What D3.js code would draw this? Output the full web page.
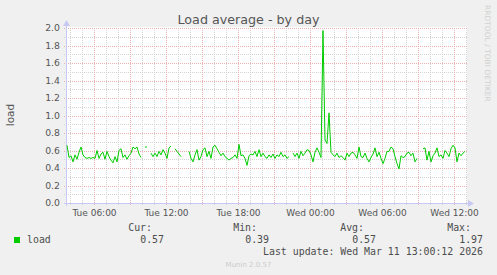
<!DOCTYPE html>
<html>
<head>
<meta charset="utf-8">
<script src="https://cdn.jsdelivr.net/npm/d3@7"></script>
<style>
  body { margin: 0; background: #f0f0f0; }
  svg { display: block; }
</style>
</head>
<body>
<div id="chart"></div>
<script>
// load average, one sample every 10 minutes from Tue 03:45 (null = no data)
var startTime = new Date(2026, 2, 10, 3, 45);
var stepMinutes = 10;
var load = [
  0.66,0.52,0.54,0.47,0.55,0.50,0.58,0.64,0.55,0.52,
  0.51,0.52,0.51,0.52,0.51,0.60,0.51,0.56,0.58,0.50,
  0.59,0.53,0.49,0.46,0.53,0.47,0.60,0.62,0.52,0.55,
  0.50,0.54,0.57,0.64,0.62,0.64,0.56,0.52,null,0.64,
  0.64,null,0.57,0.53,0.57,0.53,0.59,0.55,0.61,0.57,
  0.51,0.63,0.65,null,0.62,0.59,0.56,0.53,null,null,
  null,0.59,0.51,0.47,0.55,0.61,0.49,0.53,0.61,0.63,
  0.53,0.59,0.51,0.64,0.66,0.62,0.58,0.54,0.57,0.53,
  0.51,0.49,0.51,0.52,0.55,0.51,0.67,0.54,0.55,0.51,
  0.43,0.54,0.56,0.55,0.59,0.53,0.61,0.53,0.57,0.53,
  0.51,0.55,0.52,0.56,0.51,0.55,0.53,0.58,0.53,0.55,
  0.51,0.53,null,0.57,0.53,0.57,0.51,0.59,0.54,0.57,
  0.61,0.60,0.55,0.47,0.58,0.63,0.58,0.52,1.97,0.72,
  0.68,1.03,0.58,0.55,0.53,0.57,0.52,0.54,0.52,0.49,
  0.57,0.53,0.57,0.58,0.55,0.51,0.64,0.53,0.52,0.57,
  0.51,0.47,0.52,0.56,0.63,0.53,0.58,0.51,0.45,0.51,
  0.59,0.59,0.64,0.62,0.53,0.45,0.39,0.54,0.52,0.53,
  0.57,0.58,0.54,0.57,0.47,0.51,null,null,0.62,0.63,
  0.49,0.59,0.47,0.54,0.57,0.63,0.53,0.55,0.51,0.60,
  0.57,0.53,0.62,0.66,0.63,0.47,0.57,0.54,0.57,0.59
];
var yTicks = [0, 0.2, 0.4, 0.6, 0.8, 1.0, 1.2, 1.4, 1.6, 1.8, 2.0];
var yMinor = [0.1, 0.3, 0.5, 0.7, 0.9, 1.1, 1.3, 1.5, 1.7, 1.9];
var legendHeads = ["Cur:", "Min:", "Avg:", "Max:"];
var legendValues = ["0.57", "0.39", "0.57", "1.97"];

var W = 497, H = 275;
var plotL = 67, plotR = 467, plotT = 28, plotB = 203;
var sans = "DejaVu Sans, sans-serif";
var mono = "DejaVu Sans Mono, monospace";

var svg = d3.select("#chart").append("svg")
  .attr("width", W)
  .attr("height", H);

svg.append("rect").attr("width", W).attr("height", H).attr("fill", "#f0f0f0");

var endTime = new Date(2026, 2, 11, 13, 5);
var x = d3.scaleTime().domain([startTime, endTime]).range([plotL, plotR]);
var y = d3.scaleLinear().domain([0, 2]).range([plotB, plotT]);

var data = load.map(function(v, i) {
  return { t: d3.timeMinute.offset(startTime, i * stepMinutes), v: v };
});

// plot background
svg.append("rect")
  .attr("x", plotL).attr("y", plotT - 1)
  .attr("width", plotR - plotL).attr("height", plotB - plotT + 1)
  .attr("fill", "#ffffff");

var px = function(v) { return Math.round(v) + 0.5; };
var minorCol = "#d4d4d4", majorCol = "#eab0b0";

var grid = svg.append("g");
// minor horizontal
grid.selectAll(".hmin").data(yMinor).enter().append("line")
  .attr("x1", plotL - 3).attr("x2", plotR)
  .attr("y1", function(d) { return px(y(d)); })
  .attr("y2", function(d) { return px(y(d)); })
  .attr("stroke", minorCol).attr("stroke-dasharray", "1,1");
// minor vertical (hourly)
var hours = x.ticks(d3.timeHour.every(1)).filter(function(d) { return d.getHours() % 3 != 0; });
grid.selectAll(".vmin").data(hours).enter().append("line")
  .attr("x1", function(d) { return px(x(d)); })
  .attr("x2", function(d) { return px(x(d)); })
  .attr("y1", plotT).attr("y2", plotB + 3)
  .attr("stroke", minorCol).attr("stroke-dasharray", "1,1");
// major horizontal
grid.selectAll(".hmaj").data(yTicks.slice(1)).enter().append("line")
  .attr("x1", plotL - 3).attr("x2", plotR)
  .attr("y1", function(d) { return px(y(d)); })
  .attr("y2", function(d) { return px(y(d)); })
  .attr("stroke", majorCol).attr("stroke-dasharray", "1,1");
// major vertical (every 3 hours)
grid.selectAll(".vmaj").data(x.ticks(d3.timeHour.every(3))).enter().append("line")
  .attr("x1", function(d) { return px(x(d)); })
  .attr("x2", function(d) { return px(x(d)); })
  .attr("y1", plotT).attr("y2", plotB + 3)
  .attr("stroke", majorCol).attr("stroke-dasharray", "1,1");

// axes lines and arrows
var axisCol = "#c8c8f4";
svg.append("line").attr("x1", plotL - 3).attr("x2", plotR + 2)
  .attr("y1", plotB + 0.5).attr("y2", plotB + 0.5).attr("stroke", axisCol);
svg.append("line").attr("x1", plotL - 0.5).attr("x2", plotL - 0.5)
  .attr("y1", plotB + 3).attr("y2", plotT - 3).attr("stroke", axisCol);
svg.append("path").attr("d", "M" + (plotR + 1) + "," + (plotB - 3) + "L" + (plotR + 7) + "," + (plotB + 0.5) + "L" + (plotR + 1) + "," + (plotB + 4) + "Z")
  .attr("fill", axisCol);
svg.append("path").attr("d", "M" + (plotL - 4) + "," + (plotT - 2) + "L" + (plotL - 0.5) + "," + (plotT - 8) + "L" + (plotL + 3) + "," + (plotT - 2) + "Z")
  .attr("fill", axisCol);

// the data line
var line = d3.line()
  .defined(function(d) { return d.v != null; })
  .x(function(d) { return x(d.t); })
  .y(function(d) { return y(d.v); });
svg.append("path").datum(data)
  .attr("d", line)
  .attr("fill", "none")
  .attr("stroke", "#00cc00")
  .attr("stroke-width", 1);

// tick labels
var yAxis = svg.append("g")
  .attr("transform", "translate(" + plotL + ",0)")
  .call(d3.axisLeft(y).tickValues(yTicks).tickFormat(d3.format(".1f")).tickSize(0).tickPadding(7));
yAxis.select(".domain").remove();
yAxis.selectAll("text").attr("font-family", sans).attr("font-size", "9.3px").attr("fill", "#555");

var xAxis = svg.append("g")
  .attr("transform", "translate(0," + plotB + ")")
  .call(d3.axisBottom(x).ticks(d3.timeHour.every(6)).tickFormat(d3.timeFormat("%a %H:%M")).tickSize(0).tickPadding(6.5));
xAxis.select(".domain").remove();
xAxis.selectAll("text").attr("font-family", sans).attr("font-size", "9px").attr("fill", "#555");

// titles
svg.append("text")
  .attr("x", W / 2).attr("y", 24)
  .attr("text-anchor", "middle")
  .attr("font-family", sans).attr("font-size", "12.7px").attr("fill", "#555")
  .text("Load average - by day");

svg.append("text")
  .attr("transform", "translate(14,115) rotate(-90)")
  .attr("text-anchor", "middle")
  .attr("font-family", sans).attr("font-size", "10.5px").attr("fill", "#555")
  .text("load");

svg.append("text")
  .attr("transform", "translate(485,5) rotate(90)")
  .attr("font-family", sans).attr("font-size", "7.5px").attr("fill", "#d0d0d0")
  .text("RRDTOOL / TOBI OETIKER");

// legend
svg.append("rect").attr("x", 14).attr("y", 237).attr("width", 6).attr("height", 6).attr("fill", "#00cc00");
svg.append("text").attr("x", 27).attr("y", 242.5)
  .attr("font-family", mono).attr("font-size", "9.9px").attr("fill", "#4d4d4d")
  .text("load");

var colEnd = [152, 257, 364, 471];
svg.selectAll(".lh").data(legendHeads).enter().append("text")
  .attr("x", function(d, i) { return colEnd[i]; })
  .attr("y", 231)
  .attr("text-anchor", "end")
  .attr("font-family", mono).attr("font-size", "9.9px").attr("fill", "#4d4d4d")
  .text(function(d) { return d; });
svg.selectAll(".lv").data(legendValues).enter().append("text")
  .attr("x", function(d, i) { return colEnd[i] + 12; })
  .attr("y", 242.5)
  .attr("text-anchor", "end")
  .attr("font-family", mono).attr("font-size", "9.9px").attr("fill", "#4d4d4d")
  .text(function(d) { return d; });

svg.append("text").attr("x", 483).attr("y", 254.5)
  .attr("text-anchor", "end")
  .attr("font-family", mono).attr("font-size", "9.9px").attr("fill", "#4d4d4d")
  .text("Last update: Wed Mar 11 13:00:12 2026");

svg.append("text").attr("x", W / 2).attr("y", 267)
  .attr("text-anchor", "middle")
  .attr("font-family", sans).attr("font-size", "7px").attr("fill", "#cccccc")
  .text("Munin 2.0.57");
</script>
</body>
</html>
